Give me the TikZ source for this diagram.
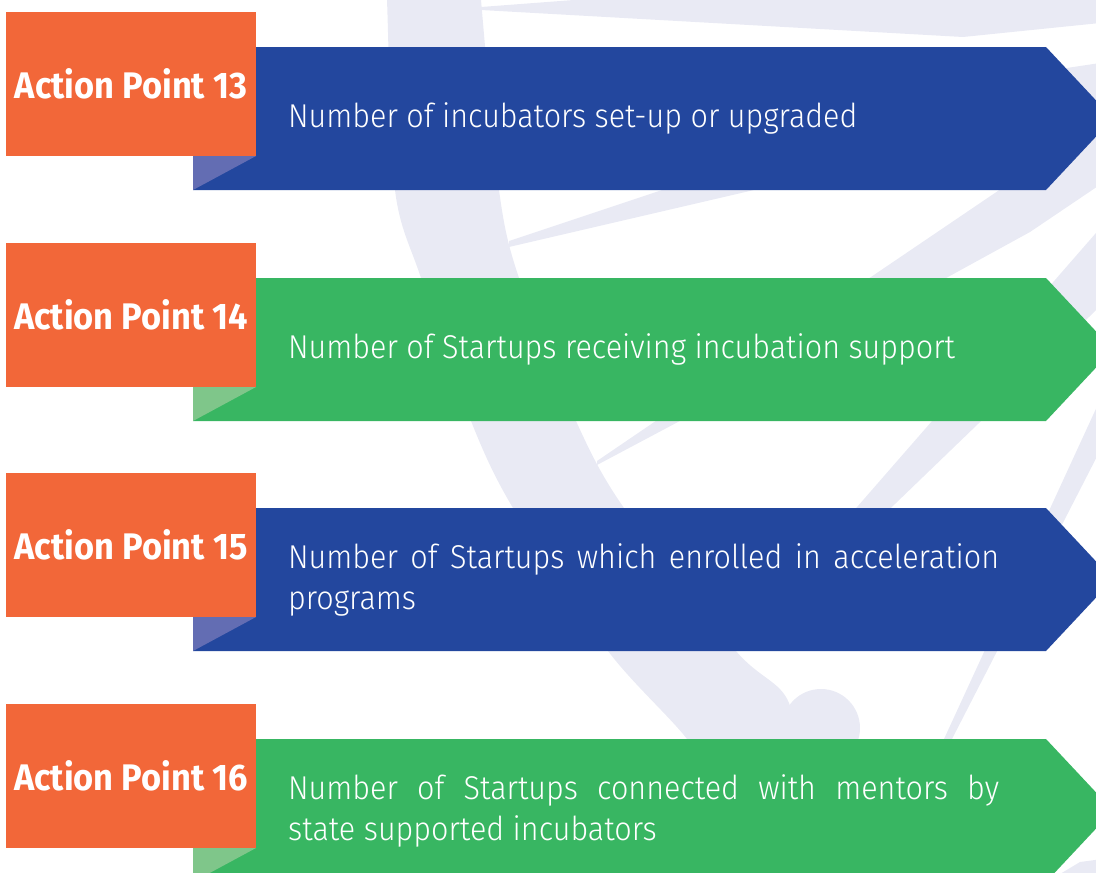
\documentclass[tikz,border=0pt]{standalone}
\usepackage{fontspec}
\usepackage{xcolor}
\setmainfont{Fira Sans}
\IfFontExistsTF{Fira Sans Light}
  {\newfontfamily\bodyfont{Fira Sans Light}[FakeStretch=0.925]}
  {\newfontfamily\bodyfont{Fira Sans}[FakeStretch=0.925]}
\newfontfamily\titlefont{Fira Sans}[FakeStretch=0.93]

\definecolor{apOrange}{HTML}{F26739}
\definecolor{apBlue}{HTML}{23479E}
\definecolor{apGreen}{HTML}{38B662}
\definecolor{apBlueFold}{HTML}{636DB3}
\definecolor{apGreenFold}{HTML}{7FC68A}
\definecolor{watermark}{HTML}{E9EAF4}

\begin{document}
\begin{tikzpicture}[x=1pt,y=-1pt,
  apbox/.style={fill=apOrange, text=white, minimum width=250pt, minimum height=144pt, inner sep=0pt,
    font=\titlefont\bfseries\fontsize{37}{42}\selectfont},
  aptext/.style={text=white, anchor=west, inner sep=0pt, text width=711pt, align=justify,
    font=\bodyfont\fontsize{33}{41}\selectfont}]
\useasboundingbox (0,0) rectangle (1096,873);
\clip (0,0) rectangle (1096,873);
% watermark in the back
\fill[watermark] plot[smooth] coordinates {(386,-20) (387,0) (395,190) (421,278) (471,421) (513,508) (608,651) (687,739) (730,810)}
  -- plot[smooth] coordinates {(800,810) (789,703) (736,651) (624,508) (576,421) (519,278) (499,190) (481,0) (480,-20)} -- cycle;
\fill[watermark] (821,728) circle[radius=39pt];
\fill[watermark] (481,7) -- (640,-5) -- (1110,-5) -- (1110,22) -- (963,37) -- (481,10) -- cycle;
\fill[watermark] (509,241) -- (782,150) -- (926,150) -- (509,247) -- cycle;
\fill[watermark] (597,461) -- (716,380) -- (757,380) -- (597,465) -- cycle;
\fill[watermark] (837,300) -- (1110,115) -- (1110,178) -- (1030,232) -- (906,300) -- cycle;
\fill[watermark] (837,530) -- (1116,210) -- (1200,210) -- (868,530) -- cycle;
\fill[watermark] (1100,400) -- (1126,400) -- (952,739) -- (944,739) -- cycle;
\fill[watermark] (1040,72) -- (1100,63) -- (1100,100) -- (1040,110) -- cycle;
\fill[watermark] (1050,880) -- (1080,862) -- (1110,858) -- (1110,880) -- cycle;
% action point 13
\fill[apBlue] (193,47) -- (1046,47) -- (1113,118.5) -- (1046,190) -- (193,190) -- cycle;
\fill[apBlueFold] (193,156) -- (256,156) -- (193,190) -- cycle;
\node[apbox] (ap13) at (131,84) {Action Point 13};
\node[aptext] (txt13) at (288,118.5) {Number of incubators set-up or upgraded};
% action point 14
\fill[apGreen] (193,278) -- (1046,278) -- (1113,349.5) -- (1046,421) -- (193,421) -- cycle;
\fill[apGreenFold] (193,387) -- (256,387) -- (193,421) -- cycle;
\node[apbox] (ap14) at (131,315) {Action Point 14};
\node[aptext] (txt14) at (288,349.5) {Number of Startups receiving incubation support};
% action point 15
\fill[apBlue] (193,508) -- (1046,508) -- (1113,579.5) -- (1046,651) -- (193,651) -- cycle;
\fill[apBlueFold] (193,617) -- (256,617) -- (193,651) -- cycle;
\node[apbox] (ap15) at (131,545) {Action Point 15};
\node[aptext] (txt15) at (288,579.5) {Number of Startups which enrolled in acceleration\linebreak programs};
% action point 16
\fill[apGreen] (193,739) -- (1046,739) -- (1113,810.5) -- (1046,882) -- (193,882) -- cycle;
\fill[apGreenFold] (193,848) -- (256,848) -- (193,882) -- cycle;
\node[apbox] (ap16) at (131,776) {Action Point 16};
\node[aptext] (txt16) at (288,810.5) {Number of Startups connected with mentors by\linebreak state supported incubators};
\end{tikzpicture}
\end{document}
